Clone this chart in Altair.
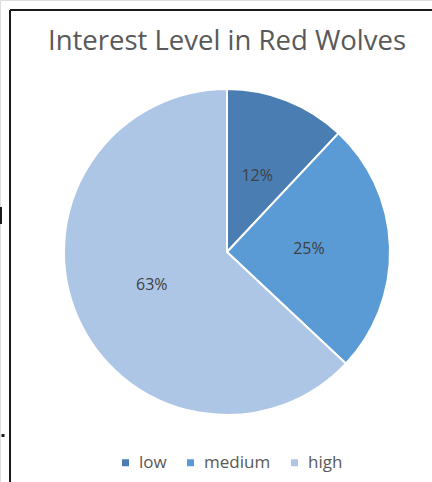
import altair as alt
import pandas as pd

# Survey results: share of respondents by interest level
levels = ["low", "medium", "high"]
shares = [12, 25, 63]
palette = ["#4a7eb3", "#5b9bd5", "#adc6e6"]

df = pd.DataFrame({
    "level": levels,
    "share": shares,
    "idx": list(range(len(levels))),
    "label": [f"{s}%" for s in shares],
})

FONT = "Open Sans"
CX, CY, R = 227, 252, 163

base = alt.Chart(df).encode(
    theta=alt.Theta("share:Q", stack=True),
    order=alt.Order("idx:Q"),
)

slices = base.mark_arc(radius=R, stroke="white", strokeWidth=2).encode(
    x=alt.value(CX),
    y=alt.value(CY),
    color=alt.Color(
        "level:N",
        scale=alt.Scale(domain=levels, range=palette),
        sort=levels,
        legend=alt.Legend(
            title=None,
            orient="none",
            legendX=117,
            legendY=454,
            direction="horizontal",
            symbolType="square",
            symbolSize=49,
            symbolStrokeWidth=0,
            labelFont=FONT,
            labelFontSize=17,
            labelColor="#595959",
            labelOffset=5,
            columnPadding=15,
        ),
    ),
)

labels = base.mark_text(
    radius=82, font=FONT, fontSize=16, color="#404040"
).encode(
    x=alt.value(CX),
    y=alt.value(CY),
    text="label:N",
)

# Frame lines along the top and left edges, plus the bits of ink beyond them
frame = alt.Chart(pd.DataFrame({"k": [0]}))
ink = "#1a1a1a"
top_edge = frame.mark_rule(color=ink, strokeWidth=2).encode(
    x=alt.value(10), x2=alt.value(432), y=alt.value(10)
)
left_edge = frame.mark_rule(color=ink, strokeWidth=2).encode(
    x=alt.value(10), y=alt.value(10), y2=alt.value(482)
)
stem = frame.mark_rule(color=ink, strokeWidth=2).encode(
    x=alt.value(1), y=alt.value(207), y2=alt.value(224)
)
dot = frame.mark_rule(color=ink, strokeWidth=3).encode(
    x=alt.value(3), y=alt.value(434), y2=alt.value(437)
)

chart = (
    alt.layer(slices, labels, top_edge, left_edge, stem, dot)
    .properties(
        width=432,
        height=482,
        autosize=alt.AutoSizeParams(type="none"),
        padding=0,
        title=alt.TitleParams(
            "Interest Level in Red Wolves",
            font=FONT,
            fontSize=27.5,
            fontWeight="normal",
            color="#595959",
            anchor="middle",
            frame="group",
            baseline="alphabetic",
            dx=11,
            dy=81,
        ),
    )
    .configure_view(stroke=None)
    .configure(background="white")
)

chart.save("out.html", embed_options={"renderer": "svg", "actions": False})
